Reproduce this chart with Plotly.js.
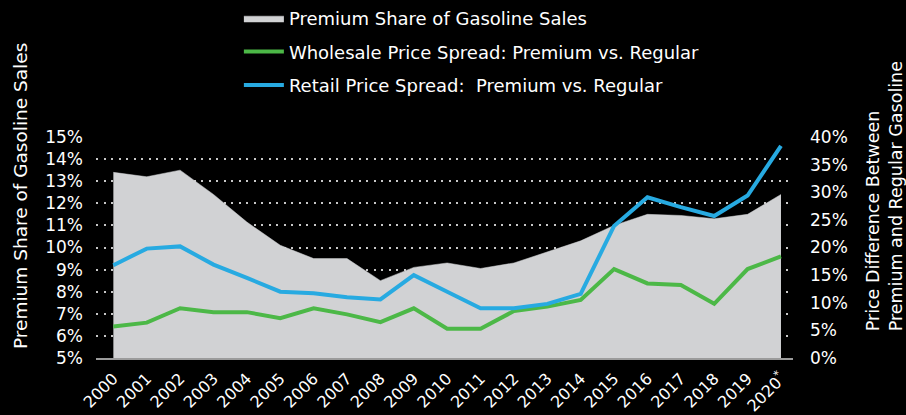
<!DOCTYPE html>
<html>
<head>
<meta charset="utf-8">
<script src="https://cdn.plot.ly/plotly-3.0.1.min.js"></script>
<style>
html,body{margin:0;padding:0;background:#000;}
#chart{width:906px;height:415px;}
</style>
</head>
<body>
<div id="chart"></div>
<script>
const years = [2000,2001,2002,2003,2004,2005,2006,2007,2008,2009,2010,2011,2012,2013,2014,2015,2016,2017,2018,2019,2020];
const yearLabels = ["2000","2001","2002","2003","2004","2005","2006","2007","2008","2009","2010","2011","2012","2013","2014","2015","2016","2017","2018","2019","2020<sup>*</sup>"];
const premiumShare = [13.4,13.2,13.5,12.4,11.15,10.1,9.5,9.5,8.5,9.1,9.3,9.05,9.3,9.8,10.3,11.0,11.5,11.45,11.3,11.5,12.4];
const wholesaleSpread = [5.7,6.4,9.0,8.3,8.3,7.2,9.0,7.9,6.5,9.0,5.3,5.3,8.5,9.3,10.5,16.1,13.5,13.2,9.8,16.1,18.4];
const retailSpread = [16.8,19.8,20.2,16.9,14.5,12.0,11.7,11.0,10.6,15.0,12.0,9.0,9.0,9.8,11.6,23.9,29.1,27.3,25.7,29.4,38.4];
const leftTicks = [5,6,7,8,9,10,11,12,13,14,15];
const leftTickLabels = ["5%","6%","7%","8%","9%","10%","11%","12%","13%","14%","15%"];
const rightTicks = [0,5,10,15,20,25,30,35,40];
const rightTickLabels = ["0%","5%","10%","15%","20%","25%","30%","35%","40%"];

const FONT = "DejaVu Sans, sans-serif";
const data = [
  {x: years, y: premiumShare, type:'scatter', mode:'lines', fill:'tozeroy',
   fillcolor:'#d1d2d4', line:{color:'#d1d2d4', width:0.5},
   name:'Premium Share of Gasoline Sales', legendgroup:'a', yaxis:'y'},
  {x: years, y: wholesaleSpread, type:'scatter', mode:'lines',
   line:{color:'#4cb847', width:4}, name:'Wholesale Price Spread: Premium vs. Regular',
   legendgroup:'b', yaxis:'y2'},
  {x: years, y: retailSpread, type:'scatter', mode:'lines',
   line:{color:'#27aae1', width:4}, name:'Retail Price Spread:  Premium vs. Regular',
   legendgroup:'c', yaxis:'y2'}
];
const layout = {
  width:906, height:415,
  paper_bgcolor:'#000', plot_bgcolor:'#000',
  margin:{l:96, r:113, t:137, b:57, autoexpand:false},
  font:{family:FONT, color:'#fff', size:16},
  showlegend:true,
  legend:{x:0.205, y:1.62, xanchor:'left', yanchor:'top', bgcolor:'rgba(0,0,0,0)', itemwidth:40,
          font:{family:FONT, size:18, color:'#fff'}, tracegroupgap:7, traceorder:'grouped'},
  xaxis:{type:'linear', range:[1999.48, 2020.36], tickvals:years, ticktext:yearLabels,
         tickangle:-45, showgrid:false, zeroline:false, showline:true,
         linecolor:'#9b9b9b', linewidth:2, ticks:'', ticklabelstandoff:3,
         tickfont:{family:FONT, size:16, color:'#fff'}},
  yaxis:{range:[5,15], tickvals:leftTicks, ticktext:leftTickLabels, showgrid:true,
         gridcolor:'#c8c8c8', gridwidth:2, griddash:'2px,5.5px', zeroline:false,
         showline:false, ticks:'', ticklabelstandoff:12,
         tickfont:{family:FONT, size:17, color:'#fff'}},
  yaxis2:{range:[0,40], tickvals:rightTicks, ticktext:rightTickLabels, overlaying:'y', side:'right',
          showgrid:false, zeroline:false, showline:false, ticks:'', ticklabelstandoff:16,
          tickfont:{family:FONT, size:17, color:'#fff'}},
  annotations:[
    {text:'Premium Share of Gasoline Sales', textangle:-90, xref:'paper', yref:'paper',
     x:-0.109, y:0.733, xanchor:'center', yanchor:'middle', showarrow:false,
     font:{family:FONT, size:18.5, color:'#fff'}},
    {text:'Price Difference Between<br>Premium and Regular Gasoline', textangle:-90,
     xref:'paper', yref:'paper', x:1.131, y:0.733, xanchor:'center', yanchor:'middle',
     showarrow:false, align:'left', font:{family:FONT, size:17.5, color:'#fff'}}
  ]
};
Plotly.newPlot('chart', data, layout, {displayModeBar:false, staticPlot:true});
</script>
</body>
</html>
